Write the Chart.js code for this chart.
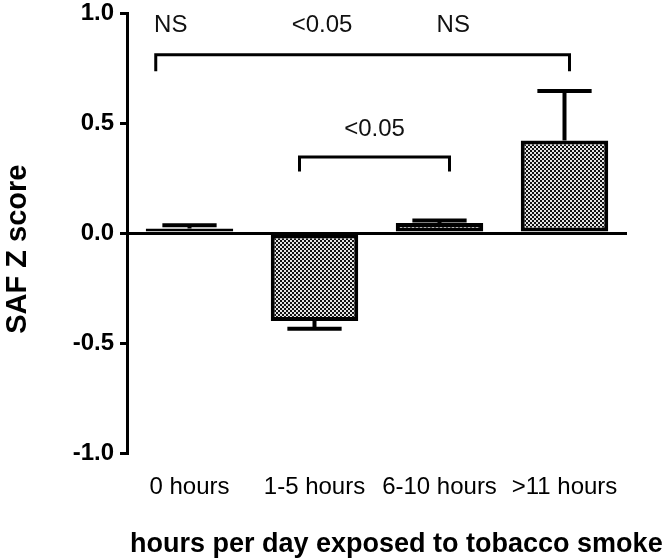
<!DOCTYPE html>
<html lang="en">
<head>
    <script src="https://cdn.jsdelivr.net/npm/chart.js@4.4.0/dist/chart.umd.min.js"></script>
    <style>
        html, body { margin: 0; padding: 0; background: #fff; }
        #wrap { width: 669px; height: 558px; }
    </style>
</head>

<body>
<div id="wrap"><canvas id="myChart"></canvas></div>
<script>
    const categories = ['0 hours', '1-5 hours', '6-10 hours', '>11 hours'];
    const safZ = [0.02, -0.40, 0.045, 0.42];
    const safErr = [0.015, 0.035, 0.012, 0.225];
    const yTicks = [-1.0, -0.5, 0.0, 0.5, 1.0];
    const xTitle = 'hours per day exposed to tobacco smoke';

    // significance brackets: x in category units, y in z score units
    const bracketFrom = [-0.27, 0.88];
    const bracketTo = [3.04, 2.08];
    const bracketY = [0.81, 0.345];
    const bracketDrop = [0.075, 0.065];
    const pLabels = ['NS', '<0.05', 'NS', '<0.05'];
    const pLabelX = [-0.15, 1.06, 2.11, 1.48];
    const pLabelY = [0.945, 0.945, 0.945, 0.47];

    Chart.defaults.font.family = '"Liberation Sans", Arial, sans-serif';

    function checker() {
        const c = document.createElement('canvas');
        c.width = 4; c.height = 4;
        const g = c.getContext('2d');
        g.fillStyle = '#e4e4e4';
        g.fillRect(0, 0, 4, 4);
        g.fillStyle = '#111';
        g.fillRect(0, 0, 2, 2);
        g.fillRect(2, 2, 2, 2);
        return g.createPattern(c, 'repeat');
    }

    const extras = {
        id: 'extras',
        afterDatasetsDraw(chart) {
            const {ctx, scales: {x, y}} = chart;
            const meta = chart.getDatasetMeta(0);
            ctx.save();
            ctx.strokeStyle = '#000';

            // error bars (only the half pointing away from zero)
            ctx.lineWidth = 4;
            meta.data.forEach((bar, i) => {
                const v = safZ[i];
                const yBar = y.getPixelForValue(v);
                const yTip = y.getPixelForValue(v + Math.sign(v) * safErr[i]);
                const half = bar.width * 0.31;
                ctx.beginPath();
                ctx.moveTo(bar.x, yBar);
                ctx.lineTo(bar.x, yTip);
                ctx.moveTo(bar.x - half, yTip);
                ctx.lineTo(bar.x + half, yTip);
                ctx.stroke();
            });

            // brackets
            ctx.lineWidth = 3;
            bracketFrom.forEach((f, i) => {
                const x0 = x.getPixelForValue(f);
                const x1 = x.getPixelForValue(bracketTo[i]);
                const yb = y.getPixelForValue(bracketY[i]);
                const yd = y.getPixelForValue(bracketY[i] - bracketDrop[i]);
                ctx.beginPath();
                ctx.moveTo(x0, yd);
                ctx.lineTo(x0, yb);
                ctx.lineTo(x1, yb);
                ctx.lineTo(x1, yd);
                ctx.stroke();
            });

            // p value labels
            ctx.fillStyle = '#111';
            ctx.font = '24px "Liberation Sans", Arial, sans-serif';
            ctx.textAlign = 'center';
            ctx.textBaseline = 'middle';
            pLabels.forEach((t, i) => {
                ctx.fillText(t, x.getPixelForValue(pLabelX[i]), y.getPixelForValue(pLabelY[i]));
            });

            // x axis title, drawn here so it may run past the plot width
            ctx.fillStyle = '#000';
            ctx.font = 'bold 27px "Liberation Sans", Arial, sans-serif';
            ctx.textAlign = 'left';
            ctx.fillText(xTitle, chart.chartArea.left + 3, chart.height - 13);
            ctx.restore();
        }
    };

    const config = {
        type: 'bar',
        data: {
            labels: categories,
            datasets: [{
                data: safZ,
                backgroundColor: checker(),
                borderColor: '#000',
                borderWidth: 4,
                borderSkipped: false,
                barPercentage: 0.7,
                categoryPercentage: 1.0
            }]
        },
        options: {
            responsive: true,
            maintainAspectRatio: false,
            animation: false,
            layout: { padding: { top: 13, right: 42, bottom: 0, left: 0 } },
            plugins: {
                legend: { display: false },
                tooltip: { enabled: false }
            },
            scales: {
                x: {
                    grid: { display: false, drawTicks: false },
                    border: { display: false },
                    ticks: {
                        color: '#000',
                        font: { size: 24 },
                        padding: 20,
                        maxRotation: 0,
                        autoSkip: false
                    },
                    afterFit: s => { s.height = 105; }
                },
                y: {
                    min: -1,
                    max: 1,
                    afterBuildTicks: s => { s.ticks = yTicks.map(v => ({ value: v })); },
                    ticks: {
                        callback: v => Number(v).toFixed(1),
                        color: '#000',
                        font: { size: 24, weight: 'bold', lineHeight: 1.0 },
                        padding: 6
                    },
                    grid: {
                        color: c => (c.tick && c.tick.value === 0) ? '#000' : 'rgba(0,0,0,0)',
                        lineWidth: 3,
                        tickColor: '#000',
                        tickLength: 7,
                        tickWidth: 3
                    },
                    border: { color: '#000', width: 3 },
                    title: {
                        display: true,
                        text: 'SAF Z score    ',
                        color: '#000',
                        font: { size: 29, weight: 'bold' },
                        padding: { top: 1, bottom: 0 }
                    },
                    afterFit: s => {
                        s.width = 127;
                        s.paddingTop = 0;
                        s.paddingBottom = 0;
                    }
                }
            }
        },
        plugins: [extras]
    };

    const myChart = new Chart(document.getElementById('myChart'), config);
</script>
</body>
</html>
